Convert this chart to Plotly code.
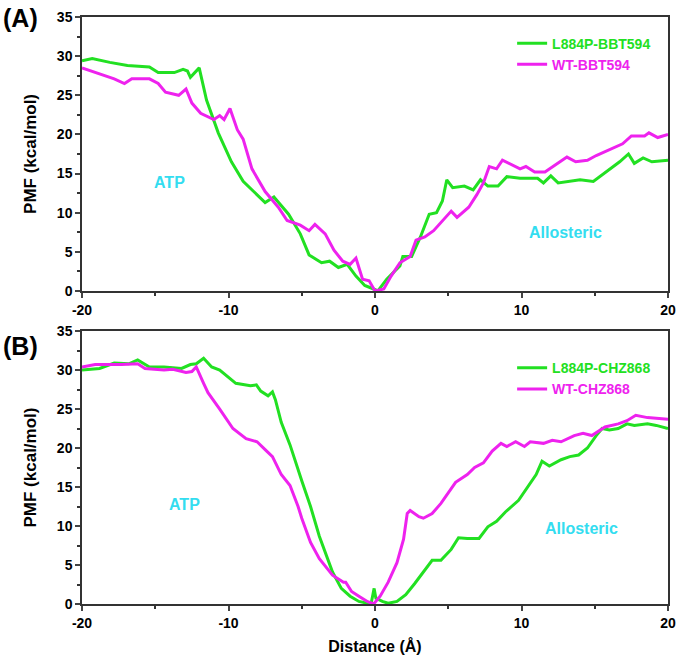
import plotly.graph_objects as go

# ---------------- Data ----------------
# Panel A
a_green_x = [-20, -19.3, -18.1, -16.9, -15.4, -14.8, -13.7, -13.1, -12.8, -12.6, -12.0, -11.5, -10.7, -9.8, -9.0, -8.1, -7.5, -6.9,
             -5.9, -5.1, -4.5, -3.65, -3.1, -2.5, -1.9, -1.3, -0.7, -0.1, 0.2, 0.8, 1.7, 1.9, 2.5, 3.1, 3.7, 4.2, 4.6, 4.9,
             5.3, 6.1, 6.7, 7.2, 7.7, 8.4, 9.0, 9.9, 11.1, 11.5, 12.0, 12.5, 14.0, 14.9, 15.8, 16.7, 17.3, 17.7, 18.3, 18.9, 20]
a_green_y = [29.4, 29.7, 29.2, 28.8, 28.6, 27.9, 27.9, 28.3, 28.1, 27.3, 28.5, 24.4, 20.2, 16.5, 14.0, 12.3, 11.3, 12.0,
             9.8, 7.3, 4.6, 3.6, 3.8, 3.0, 3.4, 1.9, 0.7, 0.25, 0.0, 1.5, 3.2, 4.4, 4.4, 6.9, 9.8, 10.0, 11.5, 14.2,
             13.2, 13.4, 12.9, 14.2, 13.4, 13.4, 14.6, 14.4, 14.4, 13.8, 14.7, 13.8, 14.2, 14.0, 15.2, 16.5, 17.5, 16.3, 17.0, 16.5, 16.7]

a_mag_x = [-20, -18.7, -17.8, -17.1, -16.6, -15.4, -14.8, -14.3, -13.4, -12.9, -12.5, -11.9, -11.0, -10.6, -10.3, -9.9, -9.4, -9.0,
           -8.4, -7.5, -6.6, -6.0, -5.1, -4.5, -4.1, -3.4, -2.8, -2.2, -1.7, -1.3, -0.85, -0.4, 0.0, 0.6, 1.1, 1.7, 2.4, 2.8,
           3.4, 4.0, 4.6, 5.2, 5.6, 6.4, 6.95, 7.4, 7.8, 8.3, 8.7, 9.3, 9.9, 10.3, 10.9, 11.6, 12.5, 13.1, 13.7, 14.5, 15.1,
           16.0, 16.9, 17.5, 18.4, 18.7, 19.3, 20]
a_mag_y = [28.5, 27.7, 27.1, 26.5, 27.1, 27.1, 26.5, 25.4, 25.0, 25.8, 24.0, 22.7, 21.9, 22.4, 21.9, 23.3, 20.6, 19.4,
           15.6, 12.7, 10.7, 9.0, 8.4, 7.7, 8.5, 7.3, 5.2, 3.8, 3.4, 4.2, 1.5, 1.3, 0.0, 0.25, 1.9, 3.6, 4.4, 6.5,
           6.9, 7.7, 9.0, 10.2, 9.4, 10.7, 12.3, 13.8, 15.9, 15.6, 16.7, 16.1, 15.6, 15.9, 15.2, 15.2, 16.3, 17.1, 16.5, 16.7, 17.3,
           18.1, 18.8, 19.8, 19.8, 20.2, 19.6, 20.0]

# Panel B
b_green_x = [-20, -18.8, -17.8, -16.8, -16.2, -15.4, -14.4, -13.2, -12.6, -12.2, -11.7, -11.15, -10.6, -9.5, -8.5, -8.1, -7.8, -7.3,
             -7.0, -6.8, -6.4, -5.8, -5.0, -4.4, -3.8, -2.9, -2.3, -1.7, -1.1, -0.27, -0.06, 0.06, 0.5, 0.9, 1.5, 2.1, 2.7,
             3.3, 3.9, 4.5, 5.2, 5.7, 6.3, 7.1, 7.7, 8.3, 8.9, 9.8, 10.4, 11.0, 11.4, 11.9, 12.7, 13.3, 13.9, 14.5, 15.1,
             15.5, 16.0, 16.6, 17.2, 17.7, 18.6, 19.2, 20]
b_green_y = [30.0, 30.2, 30.9, 30.8, 31.3, 30.4, 30.4, 30.2, 30.7, 30.8, 31.5, 30.4, 30.0, 28.3, 28.0, 28.1, 27.3, 26.7,
             27.2, 26.2, 23.3, 20.4, 15.8, 12.5, 8.7, 4.1, 2.0, 1.0, 0.33, 0.0, 2.0, 0.75, 0.33, 0.1, 0.33, 1.2, 2.6,
             4.1, 5.6, 5.6, 7.0, 8.5, 8.4, 8.4, 9.9, 10.6, 11.8, 13.3, 15.0, 16.6, 18.3, 17.7, 18.5, 18.9, 19.1, 20.0, 21.6,
             22.5, 22.3, 22.5, 23.1, 22.9, 23.1, 22.9, 22.5]

b_mag_x = [-20, -19.1, -17.3, -16.2, -15.7, -14.4, -13.8, -12.9, -12.5, -12.2, -11.7, -11.4, -10.6, -9.7, -8.8, -8.05, -7.5, -7.0,
           -6.4, -5.8, -5.25, -5.0, -4.4, -3.8, -2.9, -2.15, -2.0, -1.6, -1.1, -0.5, -0.09, 0.35, 0.9, 1.5, 1.95, 2.2, 2.4,
           3.0, 3.3, 3.9, 4.5, 5.1, 5.5, 6.3, 6.8, 7.4, 8.0, 8.6, 9.0, 9.6, 10.2, 10.6, 11.5, 12.1, 12.7, 13.6, 14.2, 14.8,
           15.7, 16.6, 17.2, 17.8, 18.6, 20]
b_mag_y = [30.4, 30.7, 30.7, 30.8, 30.2, 30.0, 30.1, 29.7, 29.8, 30.4, 28.3, 27.1, 25.0, 22.5, 21.2, 20.8, 19.8, 18.9,
           16.6, 15.2, 12.5, 11.0, 7.9, 5.8, 3.7, 2.8, 2.8, 1.6, 1.0, 0.3, 0.0, 1.0, 2.8, 5.3, 8.3, 11.6, 12.0,
           11.2, 11.0, 11.6, 12.9, 14.5, 15.6, 16.6, 17.5, 18.1, 19.6, 20.6, 20.2, 20.8, 20.2, 20.8, 20.6, 21.0, 20.8, 21.6, 21.9, 21.6,
           22.7, 23.1, 23.5, 24.2, 23.9, 23.7]

names_a = ["L884P-BBT594", "WT-BBT594"]
names_b = ["L884P-CHZ868", "WT-CHZ868"]
x_ticks = [-20, -10, 0, 10, 20]
x_ticklabels = ["-20", "-10", "0", "10", "20"]
y_ticks = [0, 5, 10, 15, 20, 25, 30, 35]

GREEN = "#22E022"
MAGENTA = "#EE22EE"
CYAN = "#33DDF0"
FONT = "Liberation Sans"

fig = go.Figure()

def add(x, y, name, color, xa, ya, leg):
    fig.add_trace(go.Scatter(
        x=x, y=y, mode="lines", name=f"<span style='color:{color}'>{name}</span>",
        line=dict(color=color, width=3), xaxis=xa, yaxis=ya, legend=leg))

add(a_green_x, a_green_y, names_a[0], GREEN, "x", "y", "legend")
add(a_mag_x, a_mag_y, names_a[1], MAGENTA, "x", "y", "legend")
add(b_green_x, b_green_y, names_b[0], GREEN, "x2", "y2", "legend2")
add(b_mag_x, b_mag_y, names_b[1], MAGENTA, "x2", "y2", "legend2")

tickfont = dict(family=FONT, size=14, color="black", weight="bold")
common_x = dict(range=[-20, 20], tickvals=x_ticks, ticktext=x_ticklabels, ticks="outside", ticklen=5, tickwidth=1.5,
                showline=True, linecolor="#333", linewidth=1.5, mirror=True, showgrid=False, zeroline=False,
                tickfont=tickfont, minor=dict(dtick=5, ticks="outside", ticklen=3, tickcolor="#333"))
common_y = dict(range=[0, 35], tickvals=y_ticks, ticks="outside", ticklen=5, tickwidth=1.5,
                showline=True, linecolor="#333", linewidth=1.5, mirror=True, showgrid=False, zeroline=False,
                tickfont=tickfont, minor=dict(dtick=2.5, ticks="outside", ticklen=3, tickcolor="#333"),
                title=dict(text="PMF (kcal/mol)", font=dict(family=FONT, size=17, color="black", weight="bold"), standoff=16))

legfont = dict(family=FONT, size=14, weight="bold")
fig.update_layout(
    width=685, height=662,
    margin=dict(l=82, r=11, t=9, b=53),
    paper_bgcolor="white", plot_bgcolor="white",
    xaxis=dict(domain=[0, 1], anchor="y", **common_x),
    yaxis=dict(domain=[0.5333, 1], anchor="x", **common_y),
    xaxis2=dict(domain=[0, 1], anchor="y2", **common_x,
                title=dict(text="Distance (Å)", font=dict(family=FONT, size=16, color="black", weight="bold"), standoff=11)),
    yaxis2=dict(domain=[0, 0.465], anchor="x2", **common_y),
    legend=dict(x=0.734, y=0.982, xanchor="left", yanchor="top", bgcolor="rgba(0,0,0,0)",
                font=legfont, tracegroupgap=0, itemwidth=30),
    legend2=dict(x=0.734, y=0.429, xanchor="left", yanchor="top", bgcolor="rgba(0,0,0,0)",
                 font=legfont, tracegroupgap=0, itemwidth=30),
    showlegend=True,
)

ann_font = dict(family=FONT, size=16, color=CYAN, weight="bold")
fig.add_annotation(x=-14.0, y=13.8, xref="x", yref="y", text="ATP", showarrow=False, font=ann_font)
fig.add_annotation(x=13.0, y=7.5, xref="x", yref="y", text="Allosteric", showarrow=False, font=ann_font)
fig.add_annotation(x=-13.0, y=12.7, xref="x2", yref="y2", text="ATP", showarrow=False, font=ann_font)
fig.add_annotation(x=14.1, y=9.7, xref="x2", yref="y2", text="Allosteric", showarrow=False, font=ann_font)

panel_font = dict(family=FONT, size=25, color="black", weight="bold")
fig.add_annotation(x=-0.105, y=0.998, xref="paper", yref="paper", xanchor="center", yanchor="middle",
                   text="(A)", showarrow=False, font=panel_font)
fig.add_annotation(x=-0.105, y=0.44, xref="paper", yref="paper", xanchor="center", yanchor="middle",
                   text="(B)", showarrow=False, font=panel_font)

fig.write_html("out.html", config={"displayModeBar": False},
               post_script="document.body.style.margin='0';")
